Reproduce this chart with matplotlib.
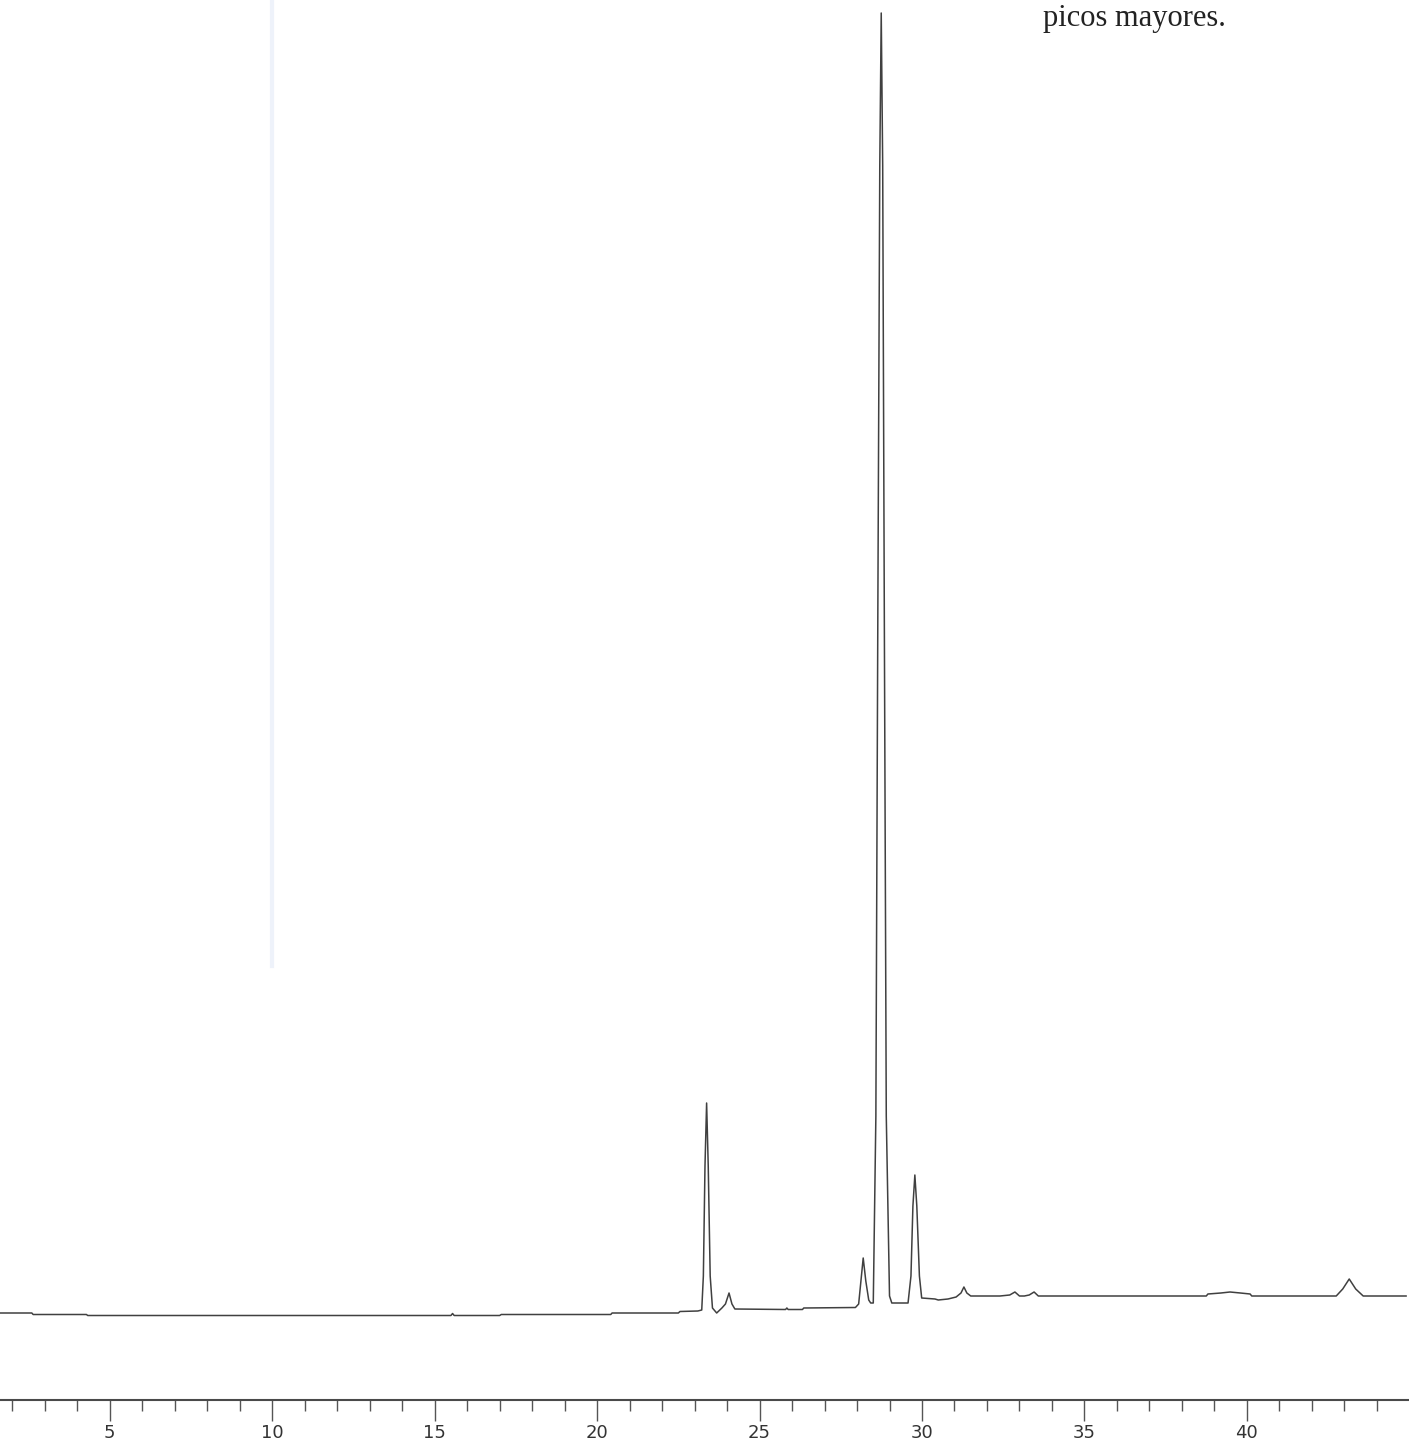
import matplotlib
matplotlib.use("Agg")
import matplotlib.pyplot as plt
from matplotlib.ticker import MultipleLocator

# trace: retention time (min) and detector signal (a.u.)
t_min = [1.62, 2.60, 2.64, 4.28, 4.32, 15.50, 15.55, 15.60, 17.00, 17.05, 20.42, 20.46,
         22.50, 22.55, 23.10, 23.22, 23.27, 23.32, 23.37, 23.42, 23.48, 23.55, 23.68,
         23.84, 23.95, 24.06, 24.15, 24.24, 25.80, 25.84, 25.88, 26.32, 26.36, 27.95,
         28.05, 28.12, 28.19, 28.27, 28.36, 28.42, 28.50, 28.58, 28.64, 28.70, 28.745,
         28.79, 28.84, 28.90, 29.00, 29.07, 29.57, 29.66, 29.72, 29.78, 29.84, 29.92,
         29.99, 30.40, 30.50, 30.80, 31.05, 31.20, 31.29, 31.38, 31.50, 32.30, 32.40,
         32.70, 32.86, 33.00, 33.15, 33.30, 33.45, 33.58, 33.70, 38.75, 38.80, 39.20,
         39.48, 39.80, 40.10, 40.15, 42.75, 42.95, 43.15, 43.35, 43.58, 44.90]
signal = [3, 3, 1.5, 1.5, 0.5, 0.5, 2.5, 0.5, 0.5, 1.5, 1.5, 3,
          3, 4.5, 5, 6, 40, 150, 213, 150, 40, 8, 3,
          8, 12, 23, 12, 7, 6.5, 8, 6.5, 6.5, 8, 8.5,
          12, 35, 58, 35, 16, 13, 13, 200, 700, 1150, 1303,
          1150, 700, 200, 20, 13, 13, 40, 110, 141, 110, 40,
          18, 17, 16, 17, 19, 23, 29, 23, 20, 20, 20,
          21, 24, 20, 20, 21, 24, 20, 20, 20, 22, 23,
          24, 23, 22, 20, 20, 27, 37, 27, 20, 20]

major_ticks = [5, 10, 15, 20, 25, 30, 35, 40]
major_labels = ["5", "10", "15", "20", "25", "30", "35", "40"]
caption = "picos mayores."

fig = plt.figure(figsize=(14.09, 14.46), dpi=100)
ax = fig.add_axes([0, 46 / 1446, 1, 1400 / 1446])

ax.plot(t_min, signal, color="#404040", lw=1.1)

# faint vertical streak left by the scanner near 10 min
ax.axvline(9.98, ymin=0.31, ymax=1.0, color="#eef2fa", lw=3, zorder=0)

ax.set_xlim(1.62, 44.99)
ax.set_ylim(-84, 1316)

for side in ["left", "right", "top"]:
    ax.spines[side].set_visible(False)
ax.spines["bottom"].set_color("#4a4a4a")
ax.spines["bottom"].set_linewidth(1.5)

ax.set_yticks([])
ax.set_xticks(major_ticks)
ax.set_xticklabels(major_labels)
ax.xaxis.set_minor_locator(MultipleLocator(1))
ax.tick_params(axis="x", which="major", direction="out", length=15, width=1.0,
               color="#555555", labelsize=13, labelcolor="#333333", pad=2)
ax.tick_params(axis="x", which="minor", direction="out", length=8, width=1.0,
               color="#555555")

fig.text(1043 / 1409, 1 - 26 / 1446, caption, family="Liberation Serif",
         fontsize=22, color="#222222", va="baseline", ha="left")

fig.savefig("out.png", dpi=100)
